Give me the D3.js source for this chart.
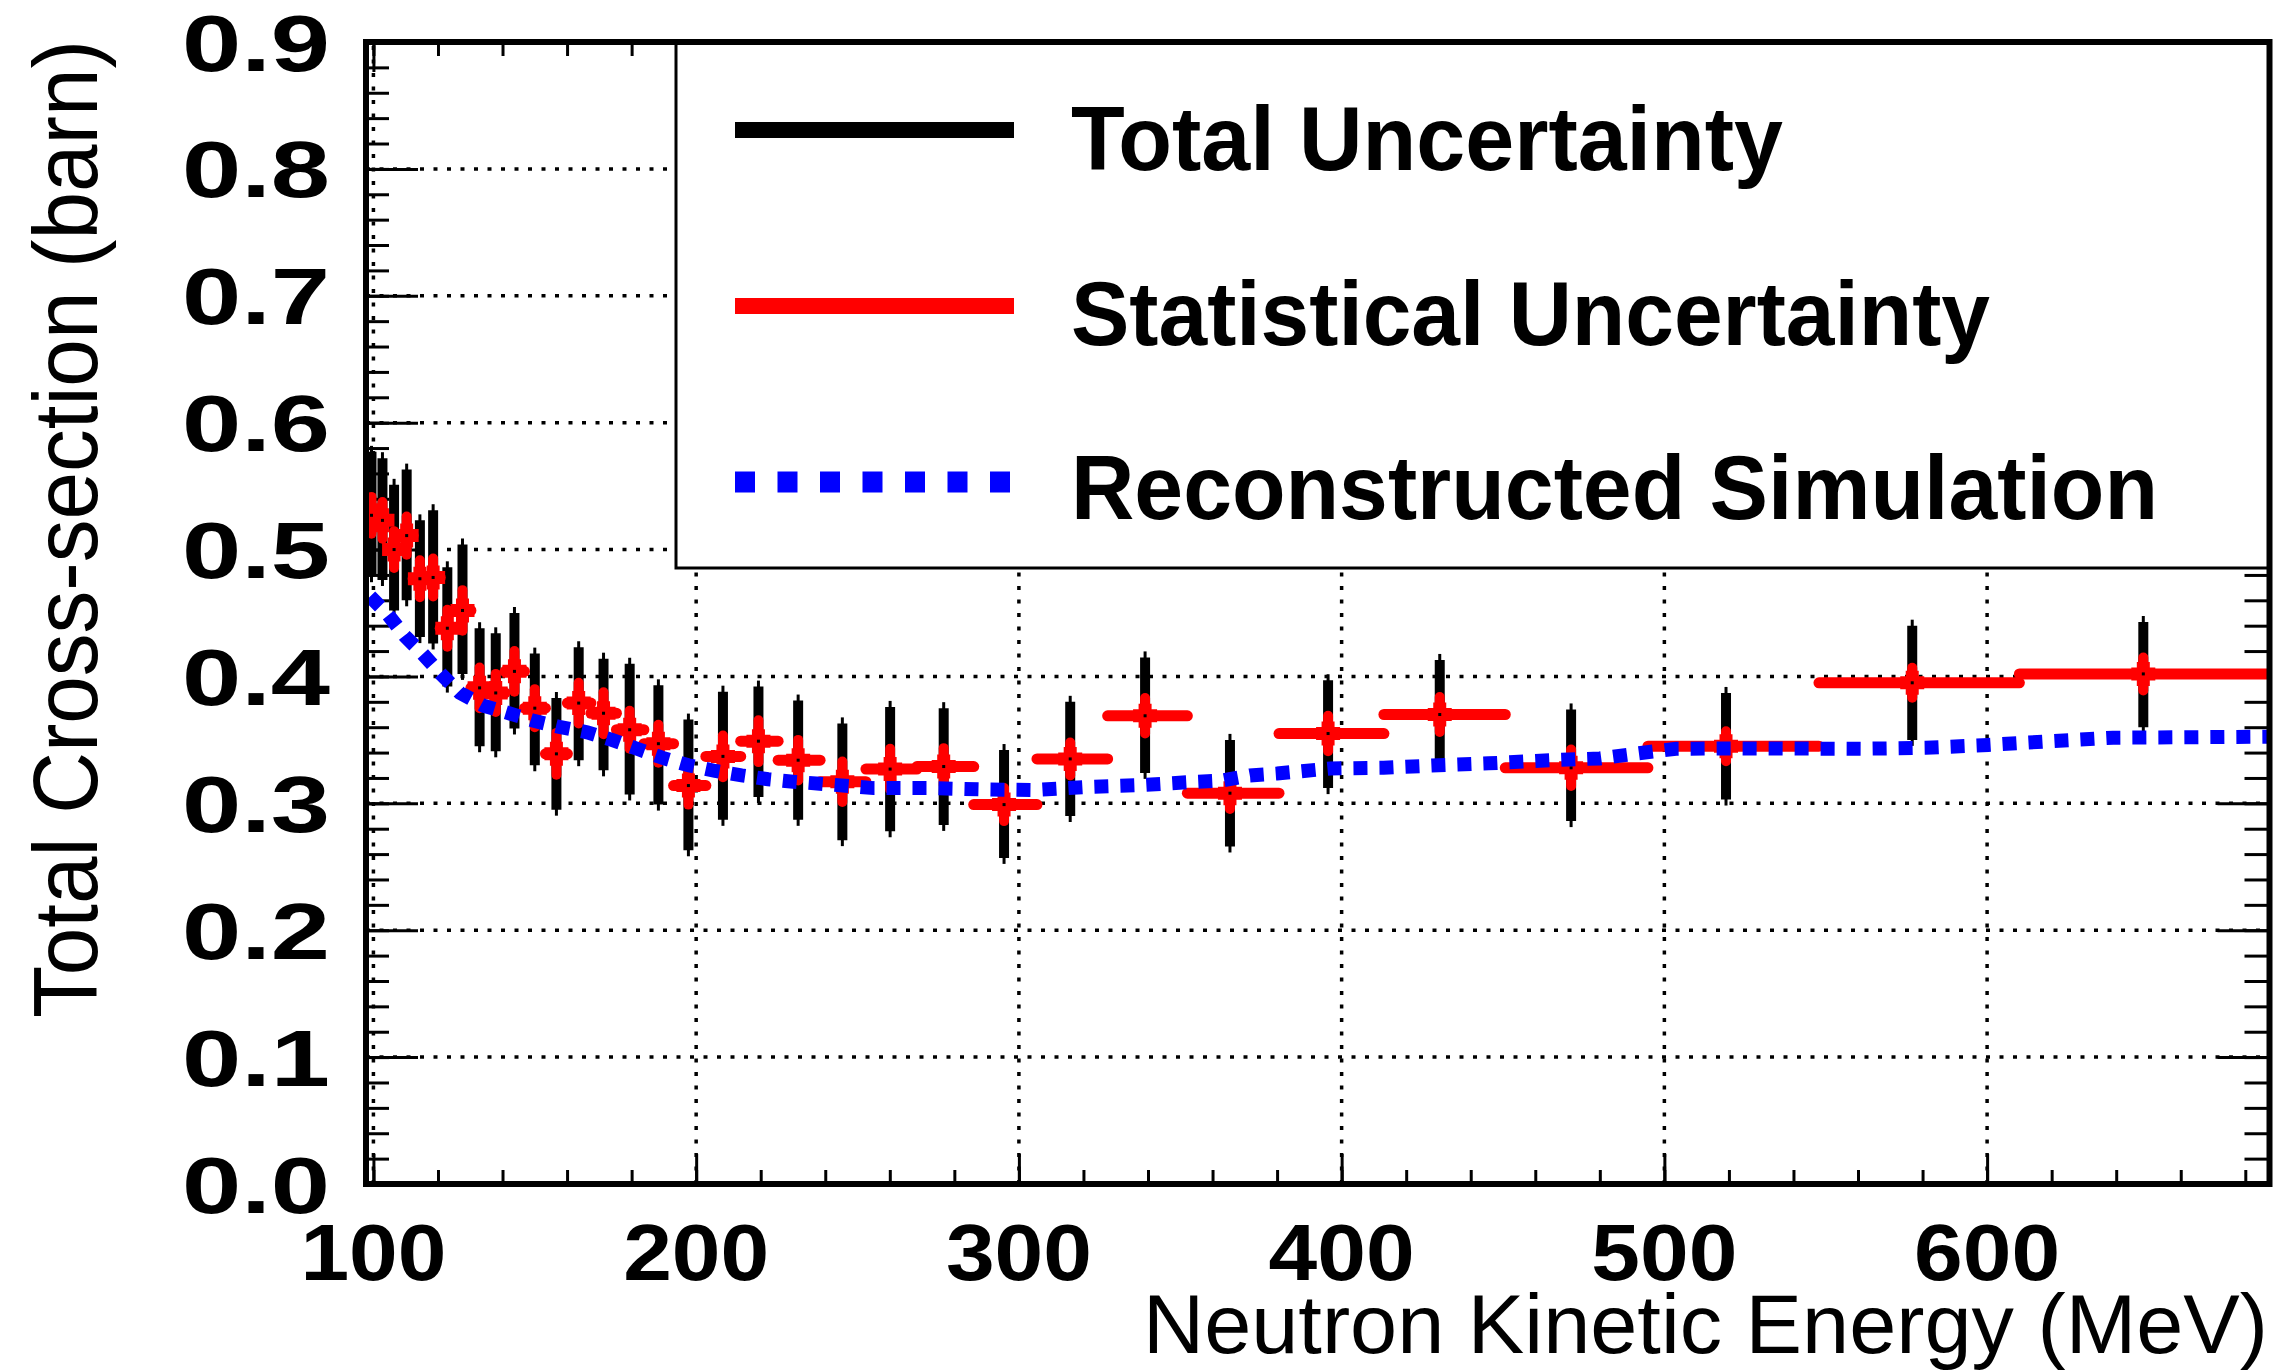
<!DOCTYPE html>
<html><head><meta charset="utf-8">
<script src="https://cdn.jsdelivr.net/npm/d3@7"></script>
<style>html,body{margin:0;padding:0;background:#fff;} svg{display:block}</style>
</head><body>
<script>
// ---------- data ----------
const energy = [99.4,102.8,106.4,110.3,114.4,118.5,122.9,127.6,132.9,137.9,143.7,150.0,156.7,163.6,171.3,179.4,188.3,197.6,208.3,219.3,231.6,245.3,260.1,276.7,295.4,315.9,339.1,365.4,395.8,430.4,471.1,519.1,576.8,648.4];
const xsec   = [0.527,0.523,0.500,0.511,0.477,0.478,0.438,0.452,0.391,0.387,0.404,0.375,0.339,0.379,0.371,0.358,0.347,0.314,0.337,0.349,0.334,0.317,0.327,0.329,0.299,0.335,0.369,0.308,0.355,0.370,0.328,0.345,0.395,0.402];
const totLo  = [0.479,0.476,0.452,0.460,0.431,0.426,0.392,0.402,0.345,0.341,0.359,0.330,0.295,0.334,0.326,0.307,0.299,0.263,0.287,0.305,0.287,0.271,0.278,0.283,0.257,0.290,0.324,0.266,0.312,0.330,0.286,0.303,0.350,0.360];
const totHi  = [0.577,0.572,0.551,0.563,0.523,0.531,0.486,0.504,0.438,0.434,0.450,0.418,0.383,0.423,0.414,0.410,0.393,0.366,0.388,0.392,0.381,0.363,0.376,0.375,0.342,0.380,0.415,0.350,0.397,0.413,0.374,0.387,0.440,0.443];
const statErr= [0.0145,0.0145,0.0145,0.015,0.0145,0.015,0.0145,0.016,0.016,0.015,0.016,0.015,0.0165,0.016,0.0165,0.015,0.015,0.015,0.0165,0.0165,0.016,0.016,0.016,0.0145,0.013,0.013,0.014,0.0125,0.014,0.0138,0.0144,0.0118,0.0118,0.013];
const binEdges = [97.7,101.1,104.6,108.3,112.3,116.4,120.7,125.2,130.2,135.4,140.8,146.8,153.3,160.1,167.4,175.3,183.8,193.0,203.0,213.8,225.4,238.4,252.6,268.4,286.0,305.6,327.5,352.2,380.6,413.1,450.7,494.9,547.9,610.0,688.5];

const simEnergy = [99,104.4,109.7,115.2,120.9,126.8,134.1,142.0,149.7,158,166.2,173.9,181.7,189.4,197.6,205.9,214.1,222.3,230.1,238.3,255,272,288.5,305,321.7,338.4,355,363,371.6,380,396.5,413,430,445.5,465,480,495.8,503.6,522.9,561.7,581,600.4,619.7,639,658.4,687.5];
const simXsec   = [0.463,0.449,0.432,0.418,0.402,0.387,0.377,0.371,0.365,0.360,0.356,0.350,0.343,0.336,0.330,0.3255,0.322,0.319,0.317,0.3155,0.312,0.312,0.311,0.3105,0.313,0.3145,0.317,0.318,0.322,0.3235,0.3275,0.328,0.330,0.3315,0.334,0.3354,0.3407,0.343,0.3433,0.343,0.3438,0.346,0.349,0.3517,0.352,0.3525];

const xTicks = [100,200,300,400,500,600];
const yTicks = [0,0.1,0.2,0.3,0.4,0.5,0.6,0.7,0.8,0.9];
const xMinor = d3.range(100, 687, 20);
const yMinor = d3.range(0, 0.9001, 0.02);
const legendLabels = ["Total Uncertainty","Statistical Uncertainty","Reconstructed Simulation"];
const legendColors = ["#000000","#ff0000","#0000ff"];
const xTitle = "Neutron Kinetic Energy (MeV)";
const yTitle = "Total Cross-section (barn)";

// ---------- layout ----------
const W = 2280, H = 1372;
const L = 366, R = 2269.5, T = 42, B = 1184;
const x = d3.scaleLinear().domain([97.7, 687.5]).range([L, R]);
const y = d3.scaleLinear().domain([0, 0.9]).range([B, T]);
const fmt = d3.format(".1f");

const svg = d3.select("body").append("svg").attr("width", W).attr("height", H)
  .style("font-family", "'Liberation Sans', Arial, Helvetica, sans-serif");

svg.append("defs").append("clipPath").attr("id","plotclip")
  .append("rect").attr("x", L).attr("y", T).attr("width", R-L).attr("height", B-T);

// gridlines
const grid = svg.append("g").attr("stroke","#000").attr("stroke-width",3.5).attr("stroke-dasharray","4,9.5");
grid.selectAll(".gx").data(xTicks).join("line")
  .attr("x1", d=>x(d)).attr("x2", d=>x(d)).attr("y1", B).attr("y2", T);
grid.selectAll(".gy").data(yTicks.filter(v=>v>0 && v<0.9)).join("line")
  .attr("x1", L).attr("x2", R).attr("y1", d=>y(d)).attr("y2", d=>y(d));

// ticks via d3 axes (pointing inward)
function tickAxis(axisGen, tx, ty){
  const g = svg.append("g").attr("transform", `translate(${tx},${ty})`).call(axisGen);
  g.select(".domain").remove();
  g.selectAll("line").attr("stroke","#000").attr("stroke-width",3);
  g.selectAll("text").remove();
}
tickAxis(d3.axisRight(y).tickValues(yMinor).tickSize(23).tickFormat(""), L, 0);
tickAxis(d3.axisRight(y).tickValues(yTicks).tickSize(52).tickFormat(""), L, 0);
tickAxis(d3.axisLeft(y).tickValues(yMinor).tickSize(25).tickFormat(""), R, 0);
tickAxis(d3.axisLeft(y).tickValues(yTicks).tickSize(52).tickFormat(""), R, 0);
tickAxis(d3.axisTop(x).tickValues(xMinor).tickSize(14).tickFormat(""), 0, B);
tickAxis(d3.axisTop(x).tickValues(xTicks).tickSize(30).tickFormat(""), 0, B);
tickAxis(d3.axisBottom(x).tickValues(xMinor).tickSize(14).tickFormat(""), 0, T);
tickAxis(d3.axisBottom(x).tickValues(xTicks).tickSize(30).tickFormat(""), 0, T);

// data
const pts = energy.map((e,i)=>({e, v:xsec[i], lo:totLo[i], hi:totHi[i], s:statErr[i], b0:binEdges[i], b1:binEdges[i+1]}));
const data = svg.append("g").attr("clip-path","url(#plotclip)");

data.selectAll(".ttail").data(pts).join("line")
  .attr("x1", d=>x(d.e)).attr("x2", d=>x(d.e))
  .attr("y1", d=>y(d.lo)+6).attr("y2", d=>y(d.hi)-6)
  .attr("stroke","#000").attr("stroke-width",3);
data.selectAll(".tot").data(pts).join("line")
  .attr("x1", d=>x(d.e)).attr("x2", d=>x(d.e))
  .attr("y1", d=>y(d.lo)).attr("y2", d=>y(d.hi))
  .attr("stroke","#000").attr("stroke-width",10);

data.selectAll(".xerr").data(pts).join("line")
  .attr("x1", d=>x(d.b0)).attr("x2", d=>x(d.b1))
  .attr("y1", d=>y(d.v)).attr("y2", d=>y(d.v))
  .attr("stroke","#ff0000").attr("stroke-width",11).attr("stroke-linecap","round");
data.selectAll(".stat").data(pts).join("line")
  .attr("x1", d=>x(d.e)).attr("x2", d=>x(d.e))
  .attr("y1", d=>y(d.v+d.s)).attr("y2", d=>y(d.v-d.s))
  .attr("stroke","#ff0000").attr("stroke-width",10).attr("stroke-linecap","round");
data.selectAll(".mk").data(pts).join("path")
  .attr("d", d=>{const cx=x(d.e), cy=y(d.v); return `M${cx-12},${cy}H${cx+12}M${cx},${cy-12}V${cy+12}`;})
  .attr("stroke","#ff0000").attr("stroke-width",13).attr("fill","none");
data.selectAll(".dot").data(pts).join("rect")
  .attr("x", d=>x(d.e)-1.5).attr("y", d=>y(d.v)-1.5).attr("width",3).attr("height",3).attr("fill","#000");

// simulation curve
const sim = simEnergy.map((e,i)=>[e, simXsec[i]]);
data.append("path").datum(sim)
  .attr("d", d3.line().x(d=>x(d[0])).y(d=>y(d[1])))
  .attr("fill","none").attr("stroke","#0000ff").attr("stroke-width",14)
  .attr("stroke-dasharray","14,12");

// legend
const leg = svg.append("g");
leg.append("rect").attr("x",676).attr("y",T).attr("width",R-676).attr("height",568-T)
  .attr("fill","#fff").attr("stroke","#000").attr("stroke-width",3);
const rowY = [130, 306, 482];
const rowBase = [170, 344.5, 519];
const textLen = [712, 919, 1087];
legendLabels.forEach((lab,i)=>{
  const ln = leg.append("line").attr("x1",735).attr("x2", i===2 ? 1010 : 1014)
    .attr("y1",rowY[i]).attr("y2",rowY[i]).attr("stroke",legendColors[i]);
  if(i===2) ln.attr("stroke-width",21).attr("stroke-dasharray","20,22.5");
  else ln.attr("stroke-width",16);
  leg.append("text").attr("x",1071).attr("y",rowBase[i]).text(lab)
    .attr("font-size",91).attr("font-weight","bold")
    .attr("textLength",textLen[i]).attr("lengthAdjust","spacingAndGlyphs");
});

// frame
svg.append("rect").attr("x",L).attr("y",T).attr("width",R-L).attr("height",B-T)
  .attr("fill","none").attr("stroke","#000").attr("stroke-width",6);

// tick labels
svg.append("g").selectAll("text").data(yTicks).join("text")
  .attr("x", 330).attr("y", d=>y(d)+28.5).attr("text-anchor","end")
  .attr("font-size",80).attr("font-weight","bold")
  .attr("textLength",148).attr("lengthAdjust","spacingAndGlyphs")
  .text(d=>fmt(d));
svg.append("g").selectAll("text").data(xTicks).join("text")
  .attr("x", d=>x(d)).attr("y", 1280).attr("text-anchor","middle")
  .attr("font-size",80).attr("font-weight","bold")
  .attr("textLength",146).attr("lengthAdjust","spacingAndGlyphs")
  .text(d=>d);

// axis titles
svg.append("text").attr("x",2268).attr("y",1353).attr("text-anchor","end")
  .attr("font-size",84).attr("textLength",1125).attr("lengthAdjust","spacingAndGlyphs")
  .text(xTitle);
svg.append("text").attr("transform","translate(97,529) rotate(-90)").attr("text-anchor","middle")
  .attr("font-size",90).attr("textLength",978).attr("lengthAdjust","spacingAndGlyphs")
  .text(yTitle);
</script>
</body></html>
